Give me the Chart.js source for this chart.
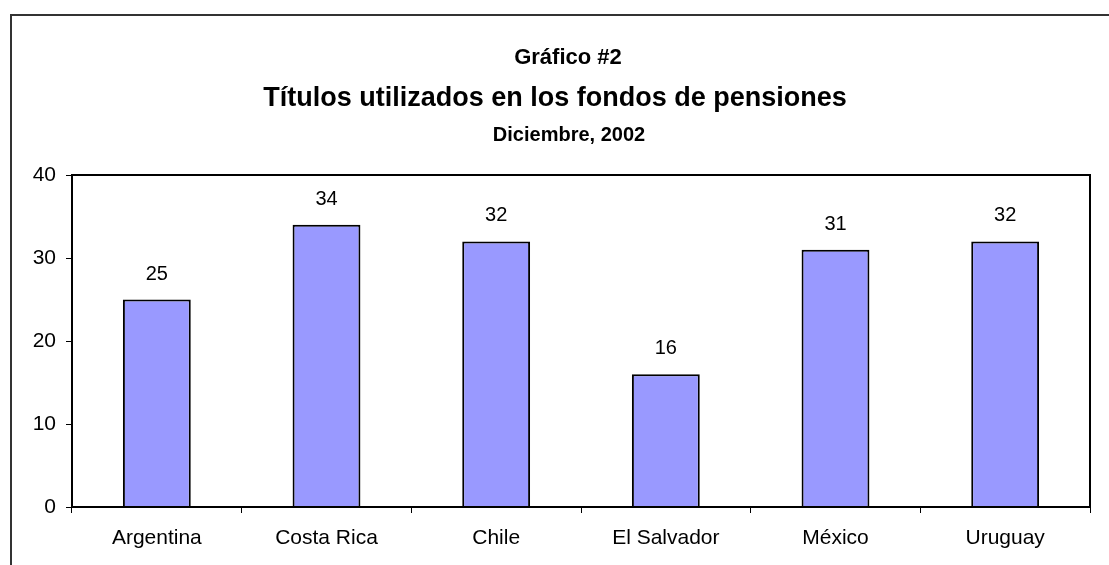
<!DOCTYPE html>
<html>
<head>
<meta charset="utf-8">
<script src="https://cdn.jsdelivr.net/npm/chart.js@4"></script>
<style>
    html, body { margin: 0; padding: 0; background: #fff; overflow: hidden; }
    #wrap { position: relative; width: 1109px; height: 565px; }
    #frame {
        position: absolute; left: 10px; top: 14px; width: 1200px; height: 700px;
        border-left: 2px solid #333; border-top: 2px solid #333; box-sizing: border-box;
    }
    canvas { position: absolute; left: 0; top: 0; }
</style>
</head>
<body>
<div id="wrap">
    <div id="frame"></div>
    <canvas id="grafico" width="1109" height="565"></canvas>
</div>
<script>
const paises = ['Argentina', 'Costa Rica', 'Chile', 'El Salvador', 'México', 'Uruguay'];
const titulos = [25, 34, 32, 16, 31, 32];
const ticksY = [0, 10, 20, 30, 40];

const titulo1 = 'Gráfico #2';
const titulo2 = 'Títulos utilizados en los fondos de pensiones';
const titulo3 = 'Diciembre, 2002';

const FONTE = '"Liberation Sans", Arial, sans-serif';

// desenha os títulos no topo
const pluginTitulos = {
    id: 'titulos',
    afterDraw(chart) {
        const ctx = chart.ctx;
        ctx.save();
        ctx.fillStyle = '#000';
        ctx.textAlign = 'center';
        ctx.textBaseline = 'alphabetic';
        ctx.font = 'bold 22px ' + FONTE;
        ctx.fillText(titulo1, 568, 64);
        ctx.font = 'bold 27px ' + FONTE;
        ctx.fillText(titulo2, 555, 106);
        ctx.font = 'bold 20px ' + FONTE;
        ctx.fillText(titulo3, 569, 141);
        ctx.restore();
    }
};

// valores acima das barras + moldura da área do gráfico
const pluginValores = {
    id: 'valores',
    afterDatasetsDraw(chart) {
        const ctx = chart.ctx;
        const meta = chart.getDatasetMeta(0);
        ctx.save();
        ctx.fillStyle = '#000';
        ctx.font = '20px ' + FONTE;
        ctx.textAlign = 'center';
        ctx.textBaseline = 'alphabetic';
        meta.data.forEach((bar, i) => {
            ctx.fillText(titulos[i], bar.x, bar.y - 20);
        });
        const a = chart.chartArea;
        ctx.strokeStyle = '#000';
        ctx.lineWidth = 2;
        ctx.strokeRect(a.left, a.top, a.right - a.left, a.bottom - a.top);
        ctx.restore();
    }
};

new Chart(document.getElementById('grafico').getContext('2d'), {
    type: 'bar',
    data: {
        labels: paises,
        datasets: [{
            data: titulos,
            backgroundColor: '#9999FF',
            borderColor: '#000',
            borderWidth: 2,
            barPercentage: 0.4,
            categoryPercentage: 1.0
        }]
    },
    options: {
        responsive: false,
        animation: false,
        layout: { padding: { top: 175, right: 19, bottom: 0, left: 0 } },
        plugins: {
            legend: { display: false },
            tooltip: { enabled: false }
        },
        scales: {
            x: {
                afterFit(scale) { scale.height = 58; },
                grid: {
                    display: true,
                    offset: true,
                    drawOnChartArea: false,
                    drawTicks: true,
                    tickLength: 6,
                    color: '#000',
                    lineWidth: 1
                },
                border: { display: true, color: '#000', width: 2 },
                ticks: { color: '#000', font: { family: FONTE, size: 21 }, padding: 13, maxRotation: 0 }
            },
            y: {
                min: 0,
                max: 40,
                afterFit(scale) { scale.width = 72; },
                afterBuildTicks(scale) { scale.ticks = ticksY.map(v => ({ value: v })); },
                grid: {
                    display: true,
                    drawOnChartArea: false,
                    drawTicks: true,
                    tickLength: 6,
                    color: '#000',
                    lineWidth: 1
                },
                border: { display: true, color: '#000', width: 2 },
                ticks: { color: '#000', font: { family: FONTE, size: 21 }, padding: 10 }
            }
        }
    },
    plugins: [pluginTitulos, pluginValores]
});
</script>
</body>
</html>
